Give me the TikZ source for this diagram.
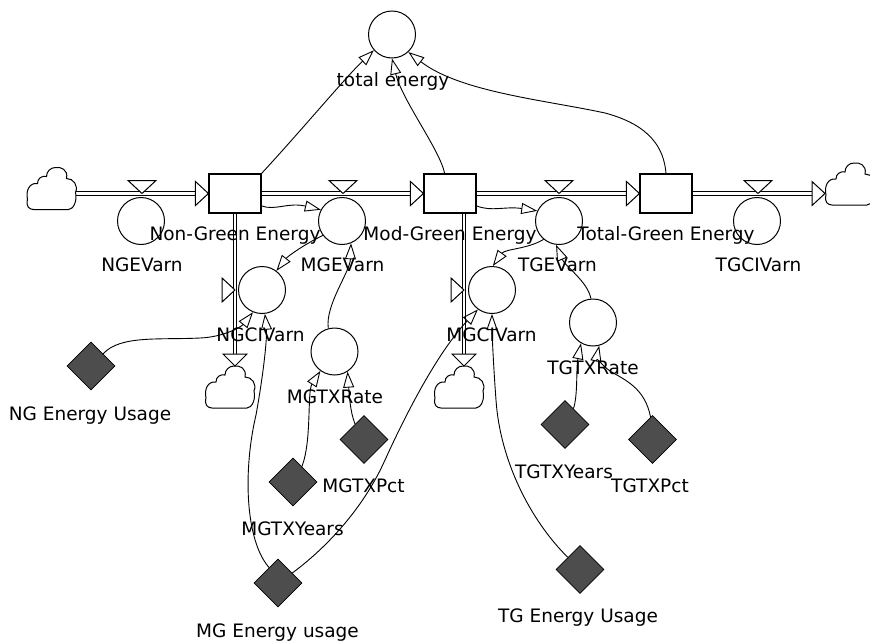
\documentclass[tikz,border=0pt]{standalone}
\usepackage{fontspec}
\setmainfont{DejaVu Sans}
\usetikzlibrary{arrows.meta,shapes.geometric,calc}
\definecolor{cgray}{HTML}{4D4D4D}
\begin{document}
\begin{tikzpicture}[x=1pt,y=-1pt,
  every node/.style={font=\fontsize{18.5}{22}\selectfont},
  stock/.style={draw,line width=1.1pt,rectangle,minimum width=52pt,minimum height=39pt,inner sep=0,fill=white},
  aux/.style={draw,line width=1pt,circle,minimum size=47pt,inner sep=0},
  const/.style={draw,line width=0.8pt,diamond,aspect=1,minimum width=48pt,minimum height=48pt,inner sep=0,fill=cgray},
  lbl/.style={anchor=base,inner sep=0,text=black},
  conn/.style={line width=0.9pt,-{Triangle[open,length=16pt,width=11pt]}},
  flow/.style={double,double distance=2.4pt,line width=0.9pt},
  tri/.style={draw,line width=1pt,fill=white,line join=miter},
  cloudpic/.pic={\draw[line width=1pt,fill=white] (-18,21) -- (17,21) .. controls (22,21) and (26,12) .. (24,4) .. controls (27,-3) and (22,-10) .. (15,-10) .. controls (17,-19) and (9,-22) .. (4,-21) .. controls (-1,-21) and (-5,-17) .. (-5,-12) .. controls (-10,-13) and (-14,-10) .. (-14,-5) .. controls (-22,-6) and (-26,2) .. (-24,11) .. controls (-26,18) and (-22,21) .. (-18,21) -- cycle;}
]
\useasboundingbox (0,0) rectangle (870,640);
\fill[white] (0,0) rectangle (870,640);

% clouds and valve coordinates
\coordinate (cL) at (51.5,188.5);
\coordinate (cR) at (850,184);
\coordinate (cNG) at (230,387);
\coordinate (cMG) at (459,387);
\coordinate (cRin) at (825,193.5);
\coordinate (vNGE) at (142,193.5);
\coordinate (vMGE) at (343,193.5);
\coordinate (vTGE) at (559,193.5);
\coordinate (vTGCI) at (758,193.5);
\coordinate (vNGCI) at (235,290);
\coordinate (vMGCI) at (464,290);
\coordinate (dNG) at (235,366);
\coordinate (dMG) at (464,366);

% stocks
\node[stock] (NGS) at (235,193.5) {};
\node[stock] (MGS) at (450,193.5) {};
\node[stock] (TGS) at (666,193.5) {};

% flows
\draw[flow] ($(cL)+(24,5)$) -- ($(NGS.west)+(-13,0)$);
\draw[flow] (NGS.east) -- ($(MGS.west)+(-13,0)$);
\draw[flow] (MGS.east) -- ($(TGS.west)+(-13,0)$);
\draw[flow] (TGS.east) -- ($(cRin)+(-13,0)$);
\draw[flow] (NGS.south) -- ($(dNG)+(0,-12)$);
\draw[flow] ($(MGS.south)+(14,0)$) -- ($(dMG)+(0,-12)$);

% clouds
\pic at (cL) {cloudpic};
\pic at (cR) {cloudpic};
\pic at (cNG) {cloudpic};
\pic at (cMG) {cloudpic};

% flow arrowheads
\draw[tri] ($(NGS.west)+(-13,-12)$) -- (NGS.west) -- ($(NGS.west)+(-13,12)$) -- cycle;
\draw[tri] ($(MGS.west)+(-13,-12)$) -- (MGS.west) -- ($(MGS.west)+(-13,12)$) -- cycle;
\draw[tri] ($(TGS.west)+(-13,-12)$) -- (TGS.west) -- ($(TGS.west)+(-13,12)$) -- cycle;
\draw[tri] ($(cRin)+(-13,-12)$) -- (cRin) -- ($(cRin)+(-13,12)$) -- cycle;
\draw[tri] ($(dNG)+(-12,-12)$) -- (dNG) -- ($(dNG)+(12,-12)$) -- cycle;
\draw[tri] ($(dMG)+(-12,-12)$) -- (dMG) -- ($(dMG)+(12,-12)$) -- cycle;

% valves
\foreach \v in {vNGE,vMGE,vTGE,vTGCI}
  \draw[tri] ($(\v)+(-14,-13)$) -- (\v) -- ($(\v)+(14,-13)$) -- cycle;
\foreach \v in {vNGCI,vMGCI}
  \draw[tri] ($(\v)+(-13,-12)$) -- (\v) -- ($(\v)+(-13,12)$) -- cycle;

% auxiliaries
\node[aux] (TE) at (392,34.5) {};
\node[aux] (NGEV) at (141,221) {};
\node[aux] (MGEV) at (342,221) {};
\node[aux] (TGEV) at (559,221) {};
\node[aux] (TGCIV) at (757,221) {};
\node[aux] (NGCIV) at (262,290) {};
\node[aux] (MGCIV) at (492,290) {};
\node[aux] (MGTXR) at (334.5,351.5) {};
\node[aux] (TGTXR) at (593,322.5) {};

% constants
\node[const] (NGEU) at (91,366) {};
\node[const] (MGTXY) at (293,482) {};
\node[const] (MGTXP) at (364,439.5) {};
\node[const] (MGEU) at (278,583) {};
\node[const] (TGTXY) at (565,424.5) {};
\node[const] (TGTXP) at (652.5,439.5) {};
\node[const] (TGEU) at (580,569.5) {};

% connectors
\draw[conn] (NGS.north east) .. controls (300,132) and (345,78) .. (TE.221);
\draw[conn] (MGS.105) .. controls (440,150) and (402,100) .. (TE.270);
\draw[conn] (TGS.north) .. controls (664,148) and (650,125) .. (605,113) .. controls (545,100) and (460,92) .. (TE.313);
\draw[conn] (NGS.-25) .. controls (275,211) and (288,202) .. (MGEV.152);
\draw[conn] (MGS.-25) .. controls (492,212) and (505,206) .. (TGEV.155);
\draw[conn] (MGEV.217) .. controls (305,244) and (288,256) .. (NGCIV.53);
\draw[conn] (TGEV.230) .. controls (528,249) and (505,249) .. (MGCIV.88);
\draw[conn] (MGTXR.105) .. controls (325,305) and (350,272) .. (MGEV.292);
\draw[conn] (TGTXR.95) .. controls (588,282) and (565,266) .. (TGEV.263);
\draw[conn] (NGEU.45) .. controls (120,335) and (160,340) .. (200,338) .. controls (225,337) and (242,326) .. (NGCIV.248);
\draw[conn] (MGEU.120) .. controls (245,540) and (243,470) .. (256,415) .. controls (265,365) and (267,335) .. (NGCIV.277);
\draw[conn] (MGEU.35) .. controls (330,545) and (365,505) .. (385,460) .. controls (410,405) and (440,350) .. (MGCIV.234);
\draw[conn] (TGEU.135) .. controls (530,520) and (500,460) .. (496,400) .. controls (493,360) and (492,330) .. (MGCIV.270);
\draw[conn] (MGTXY.60) .. controls (312,440) and (307,392) .. (MGTXR.234);
\draw[conn] (MGTXP.120) .. controls (350,412) and (349,392) .. (MGTXR.303);
\draw[conn] (TGTXY.62) .. controls (578,395) and (576,368) .. (TGTXR.240);
\draw[conn] (TGTXP.95) .. controls (645,388) and (625,380) .. (610,371) .. controls (600,364) and (597,356) .. (TGTXR.285);

% labels
\node[lbl] (lTE) at (393,86) {total energy};
\node[lbl] (lNGS) at (235,240) {Non-Green Energy};
\node[lbl] (lMGS) at (450,240) {Mod-Green Energy};
\node[lbl] (lTGS) at (666,240) {Total-Green Energy};
\node[lbl] (lNGEV) at (142,271) {NGEVarn};
\node[lbl] (lMGEV) at (342.5,271) {MGEVarn};
\node[lbl] (lTGEV) at (557.5,271) {TGEVarn};
\node[lbl] (lTGCIV) at (758.5,271) {TGCIVarn};
\node[lbl] (lNGCIV) at (260.5,341) {NGCIVarn};
\node[lbl] (lMGCIV) at (491.5,341) {MGCIVarn};
\node[lbl] (lMGTXR) at (335,403) {MGTXRate};
\node[lbl] (lTGTXR) at (593,374) {TGTXRate};
\node[lbl] (lNGEU) at (90,420) {NG Energy Usage};
\node[lbl] (lMGTXP) at (363.5,492) {MGTXPct};
\node[lbl] (lMGTXY) at (292.5,535) {MGTXYears};
\node[lbl] (lMGEU) at (277.5,637) {MG Energy usage};
\node[lbl] (lTGTXY) at (564,478) {TGTXYears};
\node[lbl] (lTGTXP) at (650,492) {TGTXPct};
\node[lbl] (lTGEU) at (578,622) {TG Energy Usage};
\end{tikzpicture}
\end{document}
